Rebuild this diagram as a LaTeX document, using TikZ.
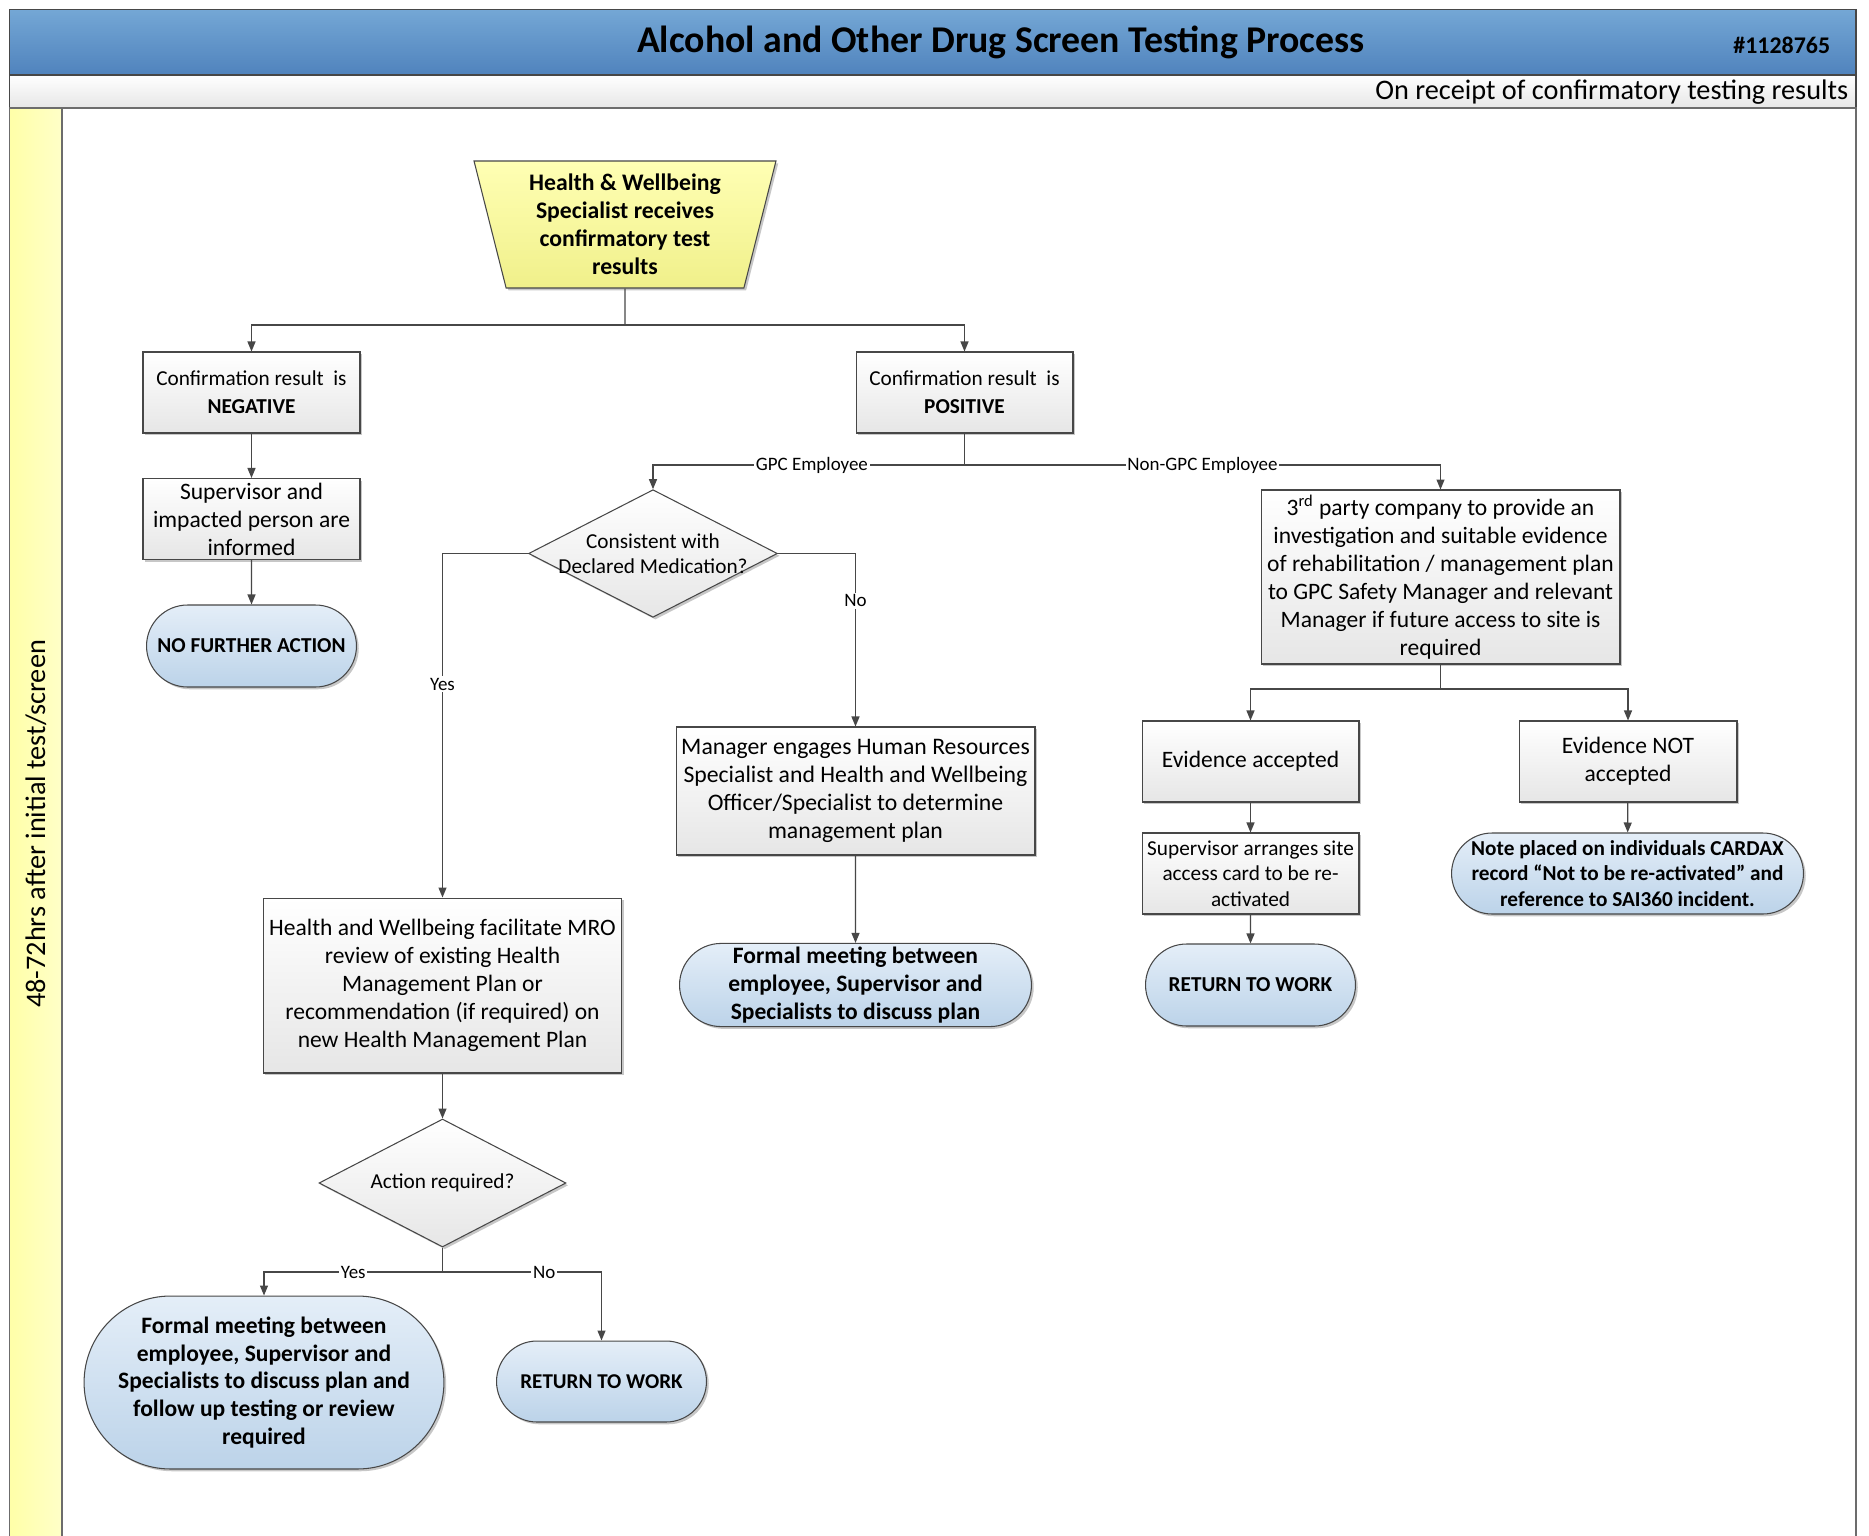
\documentclass[tikz,border=0pt]{standalone}
\usepackage{fontspec}
\setmainfont{Carlito}
\usetikzlibrary{positioning, arrows.meta, shapes.geometric, shapes.misc, shadows}

\definecolor{linegray}{HTML}{474747}
\definecolor{boxgray}{HTML}{E6E6E6}
\definecolor{pilltop}{HTML}{E4EEF8}
\definecolor{pillbot}{HTML}{BCD3E9}
\definecolor{starttop}{HTML}{FFFFB4}
\definecolor{startbot}{HTML}{F0F08A}
\definecolor{bartop}{HTML}{74A7D5}
\definecolor{barbot}{HTML}{5083BD}
\definecolor{lanel}{HTML}{FFFFA8}
\definecolor{laner}{HTML}{FFFFC8}

\begin{document}
\begin{tikzpicture}[
    x=0.02cm, y=-0.02cm,
    every node/.style = {align=center, inner sep=2pt, font=\fontsize{13.4}{15.9}\selectfont},
    shade/.style  = {drop shadow={shadow xshift=1.3pt, shadow yshift=-1.3pt, fill=black, opacity=0.22}},
    box/.style    = {rectangle, draw=linegray, line width=0.6pt, top color=white, bottom color=boxgray, shade},
    term/.style   = {rounded rectangle, draw=linegray, line width=0.6pt, top color=pilltop, bottom color=pillbot,
                     shade, font=\bfseries\fontsize{13.4}{15.9}\selectfont},
    decision/.style = {diamond, aspect=1.95, draw=linegray, line width=0.6pt, top color=white, bottom color=boxgray,
                     inner sep=0pt, shade, font=\fontsize{12.1}{14.5}\selectfont},
    startbox/.style = {trapezium, shape border rotate=180, trapezium left angle=73.4, trapezium right angle=73.4,
                     trapezium stretches body, draw=linegray, line width=0.6pt, top color=starttop,
                     bottom color=startbot, shade, font=\bfseries\fontsize{13.5}{15.9}\selectfont},
    conn/.style   = {draw=linegray, line width=0.7pt},
    elabel/.style = {fill=white, inner sep=1pt, font=\fontsize{10.8}{12}\selectfont},
    >={Triangle[length=2mm, width=1.6mm]}
]
\useasboundingbox (0,0) rectangle (1869,1535);

% frame, header and lane
\fill[white] (0,0) rectangle (1869,1535);
\draw[draw=linegray, line width=0.7pt, top color=bartop, bottom color=barbot] (9.5,9.5) rectangle (1856,75);
\draw[draw=linegray, line width=0.7pt, top color=white, bottom color=boxgray] (9.5,75) rectangle (1856,108);
\draw[draw=linegray!80, line width=0.6pt, left color=lanel, right color=laner] (9.5,108) rectangle (62,1545);
\draw[draw=linegray!80, line width=0.6pt] (62,108) rectangle (1856,1545);

\node[font=\bfseries\fontsize{21.5}{24}\selectfont] (title) at (1001,42) {Alcohol and Other Drug Screen Testing Process};
\node[font=\bfseries\fontsize{13.6}{15}\selectfont, anchor=east] (docno) at (1834,45) {\#1128765};
\node[font=\fontsize{16.1}{18}\selectfont, anchor=east] (phase) at (1852,92) {On receipt of confirmatory testing results};
\node[font=\fontsize{16.1}{18}\selectfont, rotate=90] (lane) at (36,824) {48-72hrs after initial test/screen};

% start
\node[startbox, minimum width=6.04cm, minimum height=2.54cm] (start) at (625,224.5)
    {Health \& Wellbeing\\Specialist receives\\confirmatory test\\results};

% negative branch
\node[box, minimum width=4.34cm, minimum height=1.62cm, font=\fontsize{12.1}{15.9}\selectfont] (neg) at (251.5,392.5)
    {Confirmation result~ is\\\textbf{NEGATIVE}};
\node[box, minimum width=4.34cm, minimum height=1.62cm] (inform) at (251.5,519)
    {Supervisor and\\impacted person are\\informed};
\node[term, minimum width=4.34cm, minimum height=1.64cm, font=\bfseries\fontsize{12.1}{14}\selectfont] (nfa) at (251.5,646)
    {NO FURTHER ACTION};

% positive branch
\node[box, minimum width=4.34cm, minimum height=1.62cm, font=\fontsize{12.1}{15.9}\selectfont] (pos) at (964.5,392.5)
    {Confirmation result~ is\\\textbf{POSITIVE}};

% GPC employee
\node[decision, inner xsep=-5.4pt, minimum width=4.96cm, minimum height=2.54cm] (med) at (653,553.5)
    {Consistent with\\Declared Medication?};
\node[box, minimum width=7.18cm, minimum height=2.56cm, font=\fontsize{13.5}{15.9}\selectfont] (mgr) at (855.5,791)
    {Manager engages Human Resources\\Specialist and Health and Wellbeing\\Officer/Specialist to determine\\management plan};
\node[term, minimum width=7.18cm, minimum height=1.64cm] (meet1) at (855.5,985)
    {Formal meeting between\\employee, Supervisor and\\Specialists to discuss plan};
\node[box, minimum width=7.18cm, minimum height=3.5cm] (mro) at (442.5,985.5)
    {Health and Wellbeing facilitate MRO\\review of existing Health\\Management Plan or\\recommendation (if required) on\\new Health Management Plan};
\node[decision, minimum width=4.94cm, minimum height=2.56cm] (act) at (442.5,1183)
    {Action required?};
\node[term, minimum width=7.16cm, minimum height=3.46cm] (meet2) at (264,1382.5)
    {Formal meeting between\\employee, Supervisor and\\Specialists to discuss plan and\\follow up testing or review\\required};
\node[term, minimum width=4.34cm, minimum height=1.62cm, font=\bfseries\fontsize{12}{14}\selectfont] (rtw1) at (601.5,1381.5)
    {RETURN TO WORK};

% non-GPC employee
\node[box, minimum width=7.18cm, minimum height=3.48cm] (third) at (1440.5,577)
    {3\textsuperscript{rd} party company to provide an\\investigation and suitable evidence\\of rehabilitation / management plan\\to GPC Safety Manager and relevant\\Manager if future access to site is\\required};
\node[box, minimum width=4.34cm, minimum height=1.62cm] (evok) at (1250.5,761.5)
    {Evidence accepted};
\node[box, minimum width=4.36cm, minimum height=1.62cm] (evno) at (1628,761.5)
    {Evidence NOT\\accepted};
\node[box, minimum width=4.34cm, minimum height=1.62cm, font=\fontsize{12.1}{14.5}\selectfont] (card) at (1250.5,873.5)
    {Supervisor arranges site\\access card to be re-\\activated};
\node[term, minimum width=4.34cm, minimum height=1.64cm, font=\bfseries\fontsize{12.1}{14}\selectfont] (rtw2) at (1250.5,985)
    {RETURN TO WORK};
\node[term, minimum width=7.18cm, minimum height=1.62cm, font=\bfseries\fontsize{12.1}{14.5}\selectfont] (note) at (1627.5,873.5)
    {Note placed on individuals CARDAX\\record “Not to be re-activated” and\\reference to SAI360 incident.};

% split points
\coordinate (split1) at (625,325);
\coordinate (split2) at (964.5,465);
\coordinate (split3) at (442.5,1272);
\coordinate (split4) at (1440.5,689);

% connectors
\draw[conn] (start.south) -- (split1);
\draw[conn, ->] (split1) -| (neg.north);
\draw[conn, ->] (split1) -| (pos.north);
\draw[conn, ->] (neg) -- (inform);
\draw[conn, ->] (inform) -- (nfa);

\draw[conn] (pos) -- (split2);
\draw[conn, ->] (split2) -| (med.north) node[elabel, pos=0.245] {GPC Employee};
\draw[conn, ->] (split2) -| (third.north) node[elabel, pos=0.25] {Non-GPC Employee};

\draw[conn, ->] (med.west) -| (mro.north) node[elabel, pos=0.69] {Yes};
\draw[conn, ->] (med.east) -| (mgr.north) node[elabel, pos=0.637] {No};
\draw[conn, ->] (mgr) -- (meet1);
\draw[conn, ->] (mro) -- (act);
\draw[conn] (act.south) -- (split3);
\draw[conn, ->] (split3) -| (meet2.north) node[elabel, pos=0.25] {Yes};
\draw[conn, ->] (split3) -| (rtw1.north) node[elabel, pos=0.32] {No};

\draw[conn] (third) -- (split4);
\draw[conn, ->] (split4) -| (evok.north);
\draw[conn, ->] (split4) -| (evno.north);
\draw[conn, ->] (evok) -- (card);
\draw[conn, ->] (card) -- (rtw2);
\draw[conn, ->] (evno) -- (note);

\end{tikzpicture}
\end{document}
